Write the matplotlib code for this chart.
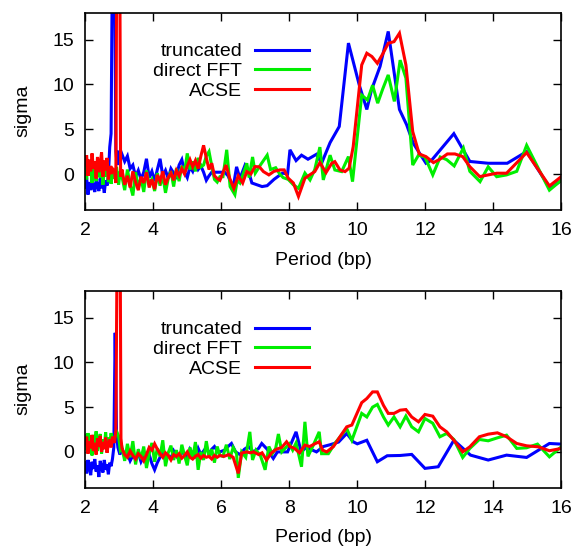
import matplotlib
matplotlib.use("Agg")
from matplotlib import pyplot as plt

BLUE = "#0000ff"
GREEN = "#00ee00"
RED = "#ff0000"

# shared period grids for the dense (noisy) part of the spectrum
GRID_LOW = [2.00, 2.04, 2.08, 2.12, 2.16, 2.20, 2.24, 2.28, 2.32, 2.36, 2.40,
            2.44, 2.48, 2.52, 2.56, 2.60, 2.64, 2.68, 2.72, 2.76, 2.80]
GRID_MID = [3.08, 3.16, 3.24, 3.32, 3.40, 3.48, 3.56, 3.64, 3.72, 3.80, 3.88,
            3.96, 4.04, 4.12, 4.20, 4.28, 4.36, 4.44, 4.52, 4.60, 4.68, 4.76,
            4.84, 4.92, 5.00, 5.08, 5.16, 5.24, 5.32, 5.40, 5.48, 5.56, 5.64,
            5.72, 5.80, 5.88, 5.96]

# ---------------- top panel ----------------
top_blue_low = [-1.5, -0.4, -2.3, -0.9, -1.8, -0.6, -1.4, -2.0, -0.8, -1.2, -1.9,
                -0.5, -1.6, -1.0, -2.1, -0.7, -1.3, -0.2, 3.0, 4.5, 25]
top_blue_spike_x = [2.86, 2.90, 2.94, 2.98, 3.02]
top_blue_spike_y = [25, 2.5, 1.0, 2.6, 1.5]
top_blue_mid = [2.2, 1.4, 2.0, 0.6, 1.0, -0.3, 0.4, -0.6, 0.2, 1.7, -0.4, 0.3,
                -0.8, 0.5, 1.7, -0.2, 0.4, -0.5, 0.6, 0.1, -0.3, 1.0, 1.6, 0.2,
                -0.4, 0.8, 0.3, 1.2, 0.5, 0.9, 0.2, -0.7, -0.2, 0.2, 0.2, 0.2, 0.2]
top_blue_tail_x = [6.10, 6.20, 6.35, 6.45, 6.55, 6.70, 6.78, 6.90, 7.05, 7.20,
                   7.35, 7.55, 7.80, 7.95, 8.02, 8.20, 8.36, 8.55, 8.80, 8.95,
                   9.20, 9.47, 9.74, 10.06, 10.28, 10.42, 10.67, 10.91, 11.24,
                   11.45, 11.65, 12.02, 12.20, 12.84, 13.31, 13.85, 14.41, 14.98,
                   15.67, 16.0]
top_blue_tail_y = [0.2, -0.2, -1.5, 0.8, -0.5, 1.0, 0.6, -1.0, -1.2, -1.4,
                   -1.3, -0.6, 0.1, 0.0, 2.7, 1.5, 2.1, 1.65, 2.2, 1.2,
                   3.5, 5.3, 14.6, 9.9, 7.2, 9.4, 12.0, 15.9, 7.2,
                   5.5, 3.4, 1.2, 1.6, 4.5, 1.4, 1.2, 1.2, 2.5,
                   -1.6, -0.7]

top_green_low = [0.8, -0.6, 1.5, -0.2, 0.9, -1.0, 1.2, 0.1, -0.8, 1.4, 0.0,
                 -0.4, 1.0, -1.2, 0.6, -0.3, 1.3, -0.9, 0.5, -1.1, 0.2]
top_green_spike_x = [2.86, 2.92, 2.98, 3.03]
top_green_spike_y = [-0.5, 0.8, -1.2, 0.3]
top_green_mid = [-0.3, -1.8, 0.5, -1.2, -2.4, 0.2, -1.5, -0.4, -2.0, 0.4, -1.1,
                 -0.6, -1.9, 0.1, -1.3, -0.2, -2.1, -0.5, 0.3, -1.4, 0.6, -0.8,
                 0.9, 0.2, 2.3, 0.5, 1.4, 0.3, 1.8, 0.8, 1.0, 2.0, 2.5, 0.9,
                 -0.6, -0.9, -0.3]
top_green_tail_x = [6.05, 6.16, 6.26, 6.40, 6.47, 6.55, 6.67, 6.75, 6.82, 6.92,
                    7.00, 7.15, 7.35, 7.45, 7.60, 7.72, 7.82, 7.97, 8.12, 8.27,
                    8.46, 8.61, 8.75, 8.90, 9.00, 9.20, 9.34, 9.54, 9.74, 9.86,
                    10.13, 10.30, 10.45, 10.60, 10.75, 10.91, 11.09, 11.26, 11.43,
                    11.63, 11.80, 11.99, 12.22, 12.44, 12.63, 12.85, 13.12, 13.31,
                    13.61, 13.85, 14.10, 14.39, 14.69, 14.98, 15.65, 16.0]
top_green_tail_y = [-0.3, 2.7, -1.4, -2.3, -0.7, -1.0, 0.3, 1.2, -0.4, 1.9,
                    0.1, 1.0, 2.1, 0.5, 0.7, 0.0, -0.4, -0.6, -1.2, -1.6,
                    0.1, -0.66, 0.5, 3.0, -0.66, 2.1, 0.45, 0.27, 1.94, -0.85,
                    8.8, 8.25, 9.9, 7.9, 9.5, 11.05, 8.1, 12.7, 10.7,
                    1.0, 2.1, 1.9, -0.1, 1.9, 1.6, 0.9, 2.9, 0.3,
                    -0.85, 0.8, -0.3, -0.1, 0.3, 3.2, -1.8, -0.7]

top_red_low = [1.0, 2.1, -0.2, 1.6, 0.3, 2.3, 0.6, 1.4, -0.5, 1.9, 0.2, 1.2,
               2.4, -0.3, 1.5, 0.4, 1.8, -0.6, 0.9, 0.0, 0.6]
top_red_spike_x = [2.86, 2.90, 2.93, 3.01, 3.04]
top_red_spike_y = [0.3, -1.0, 30, 30, -0.3]
top_red_mid = [0.5, -1.2, -0.2, -1.5, 0.3, -0.9, -1.8, -0.3, -1.0, 0.2, -1.5,
               -0.6, -1.7, -0.1, -0.8, 0.3, -1.2, -0.4, 0.1, -0.7, 0.4, -0.2,
               0.6, 0.0, 0.9, 1.6, 0.8, 1.5, 0.6, 2.0, 3.2, 1.8, 0.5, 1.2,
               -0.2, -0.5, -0.7]
top_red_tail_x = [6.14, 6.25, 6.37, 6.50, 6.63, 6.75, 6.87, 6.99, 7.12, 7.24,
                  7.40, 7.55, 7.73, 7.85, 7.97, 8.12, 8.27, 8.46, 8.60, 8.75,
                  8.90, 9.08, 9.25, 9.34, 9.49, 9.64, 9.76, 9.88, 10.13, 10.28,
                  10.43, 10.59, 10.75, 10.91, 11.08, 11.24, 11.43, 11.63, 11.82,
                  12.02, 12.24, 12.43, 12.65, 12.87, 13.10, 13.31, 13.60, 13.85,
                  14.10, 14.39, 14.98, 15.65, 16.0]
top_red_tail_y = [1.0, -0.5, -1.6, -0.2, -1.0, 0.27, 0.0, 0.83, 0.8, 0.27,
                  -0.1, 0.3, 0.46, 0.46, -0.47, -1.0, -2.5, -0.47, -0.1, 0.27,
                  1.27, 0.16, 1.2, 1.38, 0.46, 0.27, 0.65, 3.05, 12.16, 13.47,
                  13.1, 12.35, 13.4, 14.58, 14.76, 15.7, 12.16, 4.73, 2.24,
                  1.94, 1.27, 1.65, 2.24, 2.24, 1.94, 0.82, -0.29, -0.1,
                  0.09, 0.09, 2.39, -1.33, -0.29]

# ---------------- bottom panel ----------------
bot_blue_low = [-1.2, -2.4, -0.9, -1.8, -2.6, -1.1, -1.9, -0.8, -2.2, -1.5, -2.8,
                -1.0, -1.7, -2.3, -0.9, -2.0, -1.4, -2.5, -1.2, -1.6, -0.8]
bot_blue_spike_x = [2.84, 2.88, 2.92, 2.96, 3.02]
bot_blue_spike_y = [0.5, 13.3, 2.0, 0.5, -0.3]
bot_blue_mid = [0.4, -0.6, -0.2, -1.0, -0.4, -0.8, -0.1, -1.1, -0.5, -0.9, -0.3,
                -1.3, -2.0, -1.2, -0.6, -0.2, -0.9, -0.4, -0.7, 0.1, -0.5, -0.8,
                0.2, -0.4, -0.6, 0.3, -0.2, -0.5, 0.4, -0.3, 0.1, 0.5, -0.2,
                0.3, 0.6, 0.1, 0.0]
bot_blue_tail_x = [6.10, 6.20, 6.30, 6.42, 6.55, 6.68, 6.80, 6.95, 7.10, 7.19,
                   7.35, 7.53, 7.65, 7.80, 7.95, 8.20, 8.35, 8.50, 8.62, 8.80,
                   9.00, 9.20, 9.45, 9.69, 9.88, 10.00, 10.28, 10.59, 10.88,
                   11.26, 11.60, 11.99, 12.38, 12.84, 13.33, 13.85, 14.39, 14.98,
                   15.65, 16.0]
bot_blue_tail_y = [0.2, 0.6, 0.94, 0.0, -0.3, 0.3, 0.6, 0.0, 0.4, 0.94,
                   0.3, -0.73, 0.0, 0.0, 0.0, 2.24, 0.0, 0.5, 0.3, 0.0,
                   0.6, 0.8, 1.1, 2.06, 1.13, 0.9, 1.3, -1.1, -0.43,
                   -0.4, -0.28, -1.84, -1.66, 1.3, -0.36, -0.91, -0.36, -0.62,
                   0.94, 0.87]

bot_green_low = [1.8, 0.2, 2.1, 0.6, 1.5, -0.4, 1.9, 0.8, 2.3, 0.1, 1.2, 2.0,
                 -0.2, 1.4, 0.5, 2.2, 0.3, 1.6, 0.9, 2.1, 1.3]
bot_green_spike_x = [2.86, 2.92, 2.98, 3.03]
bot_green_spike_y = [1.5, 2.3, 1.8, 0.2]
bot_green_mid = [0.5, -1.0, 0.9, -0.6, 1.2, -1.4, 0.3, -0.8, 0.6, -1.8, -0.2,
                 1.0, -1.1, 0.4, -0.5, 1.3, -1.6, -0.1, 0.7, -0.9, 0.2, -1.3,
                 0.8, -0.4, -1.5, 0.5, -0.7, 1.1, -2.0, 0.0, -0.9, 1.2, -0.6,
                 0.3, -1.2, 0.6, -0.4]
bot_green_tail_x = [6.05, 6.15, 6.25, 6.35, 6.45, 6.50, 6.60, 6.72, 6.84, 6.92,
                    7.02, 7.15, 7.29, 7.40, 7.50, 7.60, 7.68, 7.78, 7.90, 8.00,
                    8.10, 8.20, 8.36, 8.46, 8.55, 8.70, 8.88, 8.95, 9.15, 9.35,
                    9.50, 9.69, 9.84, 10.13, 10.28, 10.45, 10.59, 10.77, 10.91,
                    11.08, 11.26, 11.43, 11.60, 11.80, 11.99, 12.22, 12.43, 12.63,
                    12.84, 13.10, 13.31, 13.59, 13.85, 14.12, 14.39, 14.69, 14.98,
                    15.30, 15.65, 16.0]
bot_green_tail_y = [-0.5, 0.8, -0.8, 0.5, -0.2, -2.9, 0.0, -0.6, 2.24, -0.9,
                    0.2, -0.4, -2.0, 0.6, -0.2, 0.4, 2.0, 0.0, 0.5, 0.9,
                    0.2, 1.0, -1.66, 3.36, -0.5, 0.7, 2.24, -0.2, -0.2, 1.0,
                    1.7, 2.6, 1.3, 4.3, 3.9, 5.0, 5.3, 3.9, 3.0,
                    3.9, 2.8, 4.0, 2.8, 2.24, 3.73, 3.2, 1.69, 2.06,
                    1.39, -0.62, 0.39, 1.39, 1.24, 1.57, 1.87, 0.39, 0.46,
                    0.87, -0.55, 0.57]

bot_red_low = [0.8, 1.7, -0.2, 1.2, 0.4, 1.9, 0.1, 1.0, -0.3, 1.5, 0.6, 1.8,
               0.0, 1.1, 0.3, 1.6, -0.1, 0.9, 1.4, 0.5, 1.7]
bot_red_spike_x = [2.86, 2.90, 2.95, 3.02, 3.05]
bot_red_spike_y = [1.0, 2.4, 30, 30, 1.5]
bot_red_mid = [0.4, -0.3, -0.6, 0.1, -0.4, -0.8, -0.2, -0.5, -1.0, -0.3, 0.5,
               0.2, 0.9, 0.3, -0.2, -0.6, -0.1, -0.4, -0.9, -0.3, -0.5, -0.2,
               -0.7, -0.4, 0.0, -0.6, -0.8, -0.5, -0.3, -0.7, -0.4, -0.6, -0.5,
               -0.8, -0.4, -0.6, -0.4]
bot_red_tail_x = [6.08, 6.22, 6.35, 6.50, 6.60, 6.75, 6.85, 6.95, 7.10, 7.20,
                  7.33, 7.48, 7.62, 7.78, 7.92, 8.02, 8.15, 8.30, 8.46, 8.60,
                  8.75, 8.88, 8.98, 9.10, 9.30, 9.49, 9.69, 9.84, 10.13, 10.28,
                  10.45, 10.59, 10.77, 10.91, 11.08, 11.26, 11.43, 11.60, 11.80,
                  11.99, 12.22, 12.43, 12.63, 12.84, 13.10, 13.31, 13.59, 13.85,
                  14.12, 14.39, 14.69, 14.98, 15.32, 15.65, 16.0]
bot_red_tail_y = [-0.5, -0.3, -0.6, -2.4, -0.13, 0.0, -0.1, 0.0, -0.3, -0.1,
                  -0.9, -0.1, 0.3, 0.5, 1.13, 0.6, 0.4, -0.1, 0.76, 0.6,
                  0.9, 1.13, 0.2, 0.0, 0.6, 1.69, 2.8, 3.0, 5.5, 5.96,
                  6.7, 6.7, 5.2, 4.3, 4.3, 4.66, 4.73, 3.9, 3.36,
                  4.18, 3.99, 2.8, 2.24, 1.3, 0.0, 0.57, 1.69, 1.98,
                  2.13, 1.69, 0.94, 0.68, 0.57, 0.13, 0.39]

LABELS = ["truncated", "direct FFT", "ACSE"]
COLORS = [BLUE, GREEN, RED]


def series(low, spike_x, spike_y, mid, tail_x, tail_y):
    x = GRID_LOW + spike_x + GRID_MID + tail_x
    y = low + spike_y + mid + tail_y
    return x, y


panels = [
    [
        series(top_blue_low, top_blue_spike_x, top_blue_spike_y, top_blue_mid,
               top_blue_tail_x, top_blue_tail_y),
        series(top_green_low, top_green_spike_x, top_green_spike_y, top_green_mid,
               top_green_tail_x, top_green_tail_y),
        series(top_red_low, top_red_spike_x, top_red_spike_y, top_red_mid,
               top_red_tail_x, top_red_tail_y),
    ],
    [
        series(bot_blue_low, bot_blue_spike_x, bot_blue_spike_y, bot_blue_mid,
               bot_blue_tail_x, bot_blue_tail_y),
        series(bot_green_low, bot_green_spike_x, bot_green_spike_y, bot_green_mid,
               bot_green_tail_x, bot_green_tail_y),
        series(bot_red_low, bot_red_spike_x, bot_red_spike_y, bot_red_mid,
               bot_red_tail_x, bot_red_tail_y),
    ],
]

plt.rcParams["font.family"] = ["Liberation Sans", "DejaVu Sans"]
plt.rcParams["font.size"] = 14

fig = plt.figure(figsize=(5.76, 5.48), dpi=100)
axes = [fig.add_axes([0.148, 0.617, 0.8265, 0.360]),
        fig.add_axes([0.148, 0.110, 0.8265, 0.3595])]

for ax, lines in zip(axes, panels):
    for (x, y), color, label in zip(lines, COLORS, LABELS):
        ax.plot(x, y, color=color, lw=2.2, label=label, solid_joinstyle="miter")
    ax.set_xlim(2, 16)
    ax.set_ylim(-4, 18)
    ax.set_xticks(range(2, 17, 2))
    ax.set_yticks([0, 5, 10, 15])
    ax.tick_params(direction="in", length=6, width=1.0, top=True, right=True,
                   labelsize=14)
    ax.tick_params(axis="x", pad=9)
    ax.tick_params(axis="y", pad=8)
    for s in ax.spines.values():
        s.set_linewidth(1.2)
    ax.set_xlabel("Period (bp)", va="center")
    ax.set_ylabel("sigma", va="center")
    ax.xaxis.set_label_coords(0.5, -0.255)
    ax.yaxis.set_label_coords(-0.13, 0.5)
    ax.legend(loc="upper right", bbox_to_anchor=(0.471, 0.847), markerfirst=False,
              frameon=False, handlelength=2.8, handletextpad=0.65,
              labelspacing=0.1, borderpad=0, borderaxespad=0)

fig.savefig("out.png", dpi=100)
